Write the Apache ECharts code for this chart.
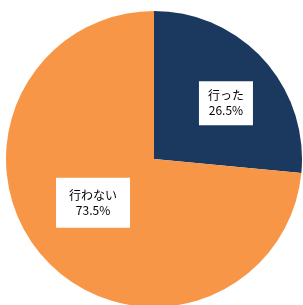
<!DOCTYPE html>
<html><head><meta charset="utf-8">
<script src="https://cdn.jsdelivr.net/npm/echarts@6/dist/echarts.min.js"></script>
<style>html,body{margin:0;padding:0;background:#fff}#c{width:303px;height:305px}</style>
</head><body><div id="c"></div>
<script>
const categories = ['行った', '行わない'];
const values = [26.5, 73.5];
const colors = ['#1b385e', '#f79646'];
const labelOffsets = [[15, -4], [-4, -8]];
const labelPadding = [[7, 9, 7, 9], [10, 13, 10, 13]];

const chart = echarts.init(document.getElementById('c'), null, {renderer: 'canvas'});
chart.setOption({
  animation: false,
  series: [{
    type: 'pie',
    center: [154, 159],
    radius: [0, 148],
    startAngle: 90,
    clockwise: true,
    data: categories.map((n, i) => ({
      name: n, value: values[i],
      itemStyle: {color: colors[i]},
      label: {padding: labelPadding[i]}
    })),
    itemStyle: {borderWidth: 0},
    label: {
      show: true,
      position: 'inside',
      formatter: p => p.name + '\n' + p.value.toFixed(1) + '%',
      backgroundColor: '#fff',
      color: '#000',
      fontFamily: 'Noto Sans CJK JP',
      fontSize: 12,
      lineHeight: 15,
      align: 'center'
    },
    labelLine: {show: false},
    labelLayout: p => ({dx: labelOffsets[p.dataIndex][0], dy: labelOffsets[p.dataIndex][1]}),
    emphasis: {disabled: true}
  }]
});
</script></body></html>
